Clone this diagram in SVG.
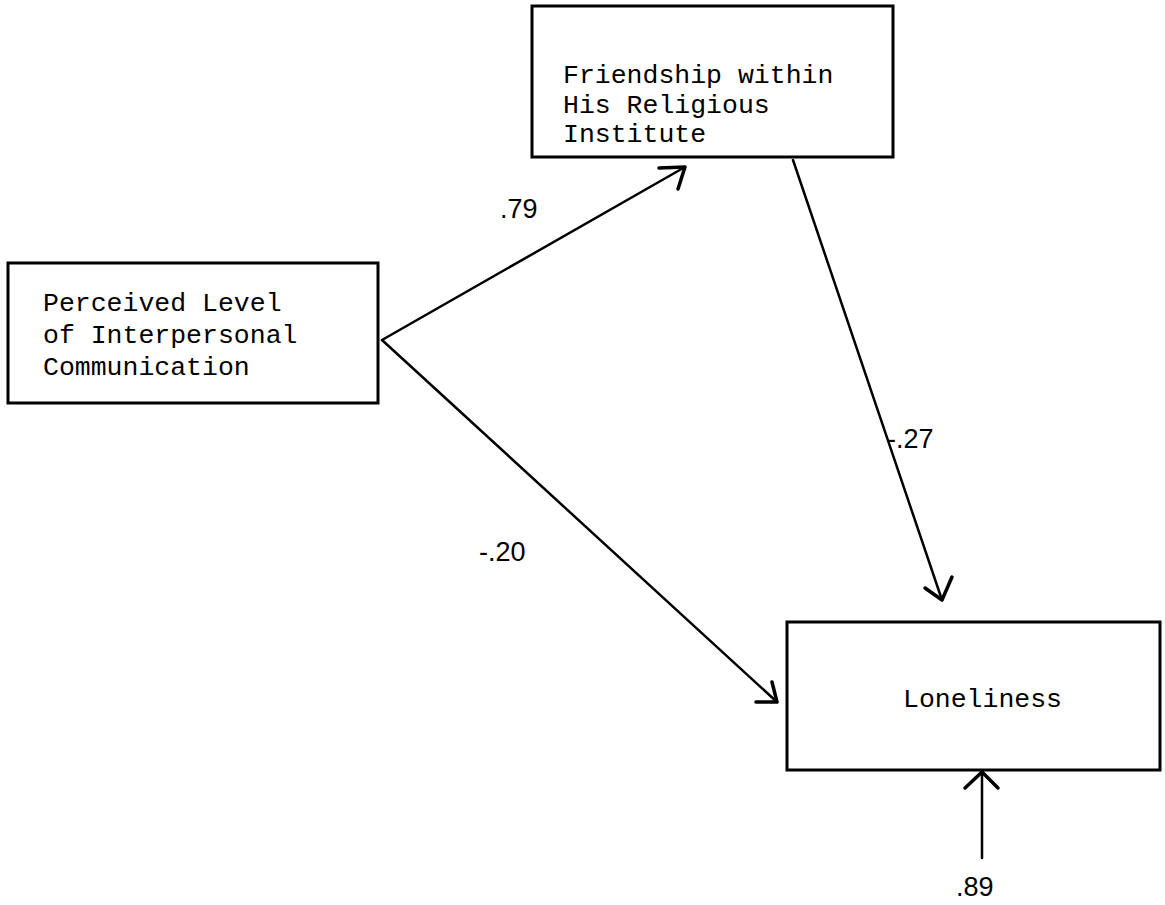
<svg xmlns="http://www.w3.org/2000/svg" width="1165" height="905" viewBox="0 0 1165 905">
<style>
.box{fill:none;stroke:#000;stroke-width:3}
.tt{font-family:"Liberation Mono","DejaVu Sans Mono",monospace;font-size:26.5px;fill:#000}
.lbl{font-family:"Liberation Sans",Arial,sans-serif;font-size:27px;fill:#000}
.ln{fill:none;stroke:#000;stroke-width:2.5;stroke-linecap:round}
.hd{fill:none;stroke:#000;stroke-width:3.5;stroke-linecap:round;stroke-linejoin:round}
</style>
<rect width="1165" height="905" fill="#fff"/>
<g id="friendship">
<rect class="box" x="532" y="6" width="361" height="151"/>
<text class="tt" x="563" y="83">Friendship within</text>
<text class="tt" x="563" y="113">His Religious</text>
<text class="tt" x="563" y="142">Institute</text>
</g>
<g id="perceived">
<rect class="box" x="8" y="263" width="370" height="140"/>
<text class="tt" x="43" y="311">Perceived Level</text>
<text class="tt" x="43" y="343">of Interpersonal</text>
<text class="tt" x="43" y="375">Communication</text>
</g>
<g id="loneliness">
<rect class="box" x="787" y="622" width="373" height="148"/>
<text class="tt" x="903" y="707">Loneliness</text>
</g>
<g id="connectors">
<line class="ln" x1="382" y1="340" x2="685" y2="167"/>
<polyline class="hd" points="659,168 685,167 678,189"/>
<line class="ln" x1="382" y1="340" x2="777" y2="702"/>
<polyline class="hd" points="772,682 777,702 756,702"/>
<line class="ln" x1="793" y1="160" x2="942" y2="600"/>
<polyline class="hd" points="925,588 942,600 952,577"/>
<line class="ln" x1="982" y1="858" x2="982" y2="772"/>
<polyline class="hd" points="965,788 982,772 998,788"/>
</g>
<g id="labels">
<text class="lbl" x="500" y="218">.79</text>
<text class="lbl" x="887" y="448">-.27</text>
<text class="lbl" x="479" y="561">-.20</text>
<text class="lbl" x="956" y="896">.89</text>
</g>
</svg>
